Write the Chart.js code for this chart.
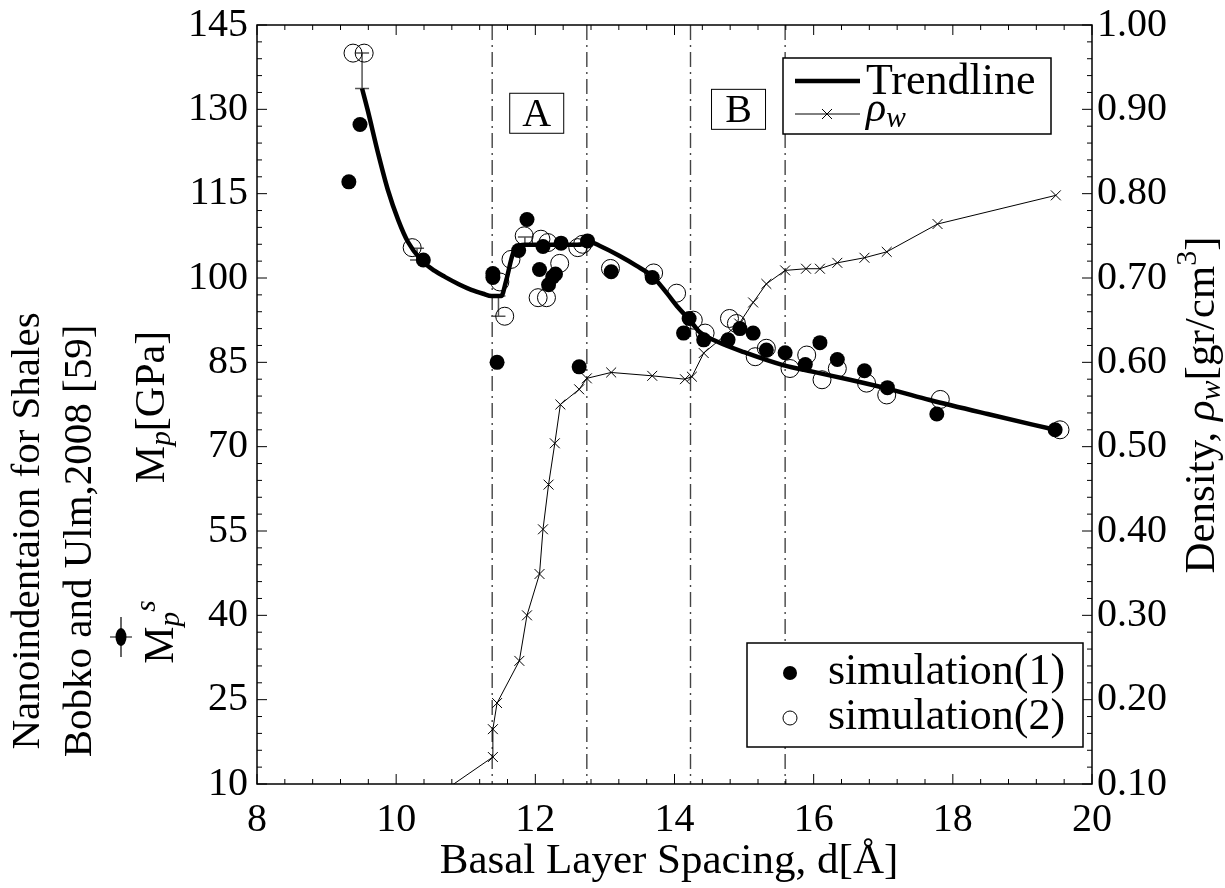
<!DOCTYPE html>
<html>
<head>
<meta charset="utf-8">
<script src="https://cdn.jsdelivr.net/npm/chart.js@4.4.0/dist/chart.umd.min.js"></script>
<style>
  html, body { margin: 0; padding: 0; background: #fff; }
  #wrap { width: 1225px; height: 888px; }
</style>
</head>
<body>
<div id="wrap"><canvas id="chart" width="1225" height="888"></canvas></div>
<script>
// trendline through the indentation modulus
const trendX = [9.51, 9.59, 9.74, 9.88, 10.03, 10.17, 10.36, 10.55, 10.70, 10.90, 11.08, 11.25, 11.37, 11.51, 11.58, 11.68, 11.78, 11.85, 12.10, 12.40, 12.60, 12.80, 12.93, 13.20, 13.45, 13.69, 13.89, 14.05, 14.22, 14.36, 14.61, 15.00, 15.56, 16.00, 16.52, 17.10, 17.67, 18.50, 19.47];
const trendM = [133.7, 129.9, 122.2, 115.7, 110.3, 106.4, 103.2, 101.3, 100.2, 98.9, 97.9, 97.2, 96.8, 96.8, 99.5, 104.4, 105.8, 105.9, 105.9, 105.9, 105.9, 106.3, 105.7, 104.0, 102.2, 100.2, 97.3, 94.8, 92.5, 90.4, 88.7, 86.8, 84.5, 83.3, 81.9, 80.2, 78.3, 75.8, 73.0];

// simulation(1), filled circles
const sim1X = [9.32, 9.48, 10.39, 11.39, 11.39, 11.45, 11.76, 11.88, 12.06, 12.11, 12.19, 12.25, 12.29, 12.37, 12.63, 12.75, 13.09, 13.68, 14.13, 14.21, 14.42, 14.77, 14.94, 15.13, 15.32, 15.59, 15.88, 16.09, 16.34, 16.73, 17.06, 17.77, 19.47];
const sim1M = [117.1, 127.3, 103.2, 100.8, 100.1, 85.0, 104.9, 110.4, 101.5, 105.6, 98.8, 100.2, 100.7, 106.2, 84.2, 106.6, 101.1, 100.1, 90.2, 92.8, 89.0, 89.0, 91.0, 90.2, 87.2, 86.7, 84.6, 88.5, 85.5, 83.5, 80.5, 75.8, 73.0];

// simulation(2), open circles
const sim2X = [9.38, 9.54, 10.23, 11.49, 11.56, 11.65, 11.84, 12.04, 12.08, 12.16, 12.18, 12.35, 12.61, 12.68, 13.08, 13.70, 14.03, 14.27, 14.44, 14.79, 14.89, 15.16, 15.32, 15.66, 15.90, 16.12, 16.34, 16.76, 17.05, 17.82, 19.54];
const sim2M = [140.0, 140.0, 105.4, 99.3, 93.2, 103.3, 107.5, 96.5, 106.9, 96.5, 106.3, 102.6, 105.4, 106.0, 101.7, 100.9, 97.3, 92.5, 90.2, 92.8, 91.9, 86.0, 87.5, 83.9, 86.3, 81.9, 83.9, 81.3, 79.2, 78.4, 73.0];

// water density (right axis)
const rhoX = [10.30, 11.39, 11.39, 11.45, 11.77, 11.88, 12.06, 12.11, 12.19, 12.28, 12.36, 12.63, 12.74, 13.09, 13.68, 14.15, 14.25, 14.42, 14.93, 15.13, 15.32, 15.59, 15.89, 16.09, 16.34, 16.73, 17.05, 17.78, 19.48];
const rhoW = [0.070, 0.132, 0.165, 0.196, 0.246, 0.300, 0.349, 0.402, 0.455, 0.504, 0.550, 0.568, 0.581, 0.588, 0.584, 0.580, 0.583, 0.611, 0.646, 0.671, 0.693, 0.709, 0.711, 0.711, 0.718, 0.724, 0.731, 0.764, 0.798];

// nanoindentation error bars
const errX = [9.51, 10.30, 11.47, 11.85];
const errLo = [133.7, 103.2, 93.2, 105.9];
const errHi = [140.0, 105.3, 96.8, 107.3];

// region boundaries
const regionX = [11.38, 12.74, 14.23, 15.59];

const FONT = 'Liberation Serif';
const pts = (xs, ys) => xs.map((v, i) => ({ x: v, y: ys[i] }));

function richWidth(ctx, parts, size) {
  let w = 0;
  parts.forEach(p => {
    const s = p.s ? size * 0.7 : size;
    ctx.font = (p.i ? 'italic ' : '') + s + 'px "' + FONT + '"';
    w += ctx.measureText(p.t).width;
  });
  return w;
}

function drawRich(ctx, parts, cx, cy, size) {
  let x = cx - richWidth(ctx, parts, size) / 2;
  ctx.textAlign = 'left';
  ctx.textBaseline = 'middle';
  parts.forEach(p => {
    const s = p.s ? size * 0.7 : size;
    ctx.font = (p.i ? 'italic ' : '') + s + 'px "' + FONT + '"';
    let dy = 0;
    if (p.s === 'sub') dy = size * 0.22;
    if (p.s === 'sup') dy = -size * 0.35;
    ctx.fillText(p.t, x, cy + dy);
    x += ctx.measureText(p.t).width;
  });
}

function rotated(ctx, cx, cy, fn) {
  ctx.save();
  ctx.translate(cx, cy);
  ctx.rotate(-Math.PI / 2);
  fn();
  ctx.restore();
}

const under = {
  id: 'under',
  beforeDatasetsDraw(chart) {
    const { ctx, chartArea: a, scales: { x, y } } = chart;
    ctx.save();
    ctx.strokeStyle = '#444';
    ctx.lineWidth = 1.4;
    ctx.setLineDash([15, 5, 2, 5]);
    regionX.forEach(v => {
      const px = x.getPixelForValue(v);
      ctx.beginPath();
      ctx.moveTo(px, a.top);
      ctx.lineTo(px, a.bottom);
      ctx.stroke();
    });
    ctx.setLineDash([]);
    ctx.strokeStyle = '#555';
    ctx.lineWidth = 1.5;
    errX.forEach((v, i) => {
      const px = x.getPixelForValue(v);
      const lo = y.getPixelForValue(errLo[i]);
      const hi = y.getPixelForValue(errHi[i]);
      ctx.beginPath();
      ctx.moveTo(px, lo); ctx.lineTo(px, hi);
      ctx.moveTo(px - 7, lo); ctx.lineTo(px + 7, lo);
      ctx.moveTo(px - 7, hi); ctx.lineTo(px + 7, hi);
      ctx.stroke();
    });
    ctx.restore();
  }
};

const over = {
  id: 'over',
  afterDraw(chart) {
    const { ctx, chartArea: a, scales: { x, y } } = chart;
    ctx.save();
    // frame and inward ticks
    ctx.strokeStyle = '#000';
    ctx.lineWidth = 1.5;
    ctx.strokeRect(a.left, a.top, a.right - a.left, a.bottom - a.top);
    ctx.lineWidth = 1;
    ctx.beginPath();
    for (let k = 0; k <= 30; k++) {
      const px = x.getPixelForValue(8 + k * 0.4);
      const len = k % 5 === 0 ? 10 : 5;
      ctx.moveTo(px, a.bottom); ctx.lineTo(px, a.bottom - len);
      ctx.moveTo(px, a.top); ctx.lineTo(px, a.top + len);
    }
    for (let k = 0; k <= 45; k++) {
      const py = y.getPixelForValue(10 + k * 3);
      const len = k % 5 === 0 ? 10 : 5;
      ctx.moveTo(a.left, py); ctx.lineTo(a.left + len, py);
      ctx.moveTo(a.right, py); ctx.lineTo(a.right - len, py);
    }
    ctx.stroke();

    // region labels
    ctx.fillStyle = '#000';
    [['A', 12.02, 129.3], ['B', 14.92, 130.0]].forEach(([t, vx, vy]) => {
      const px = x.getPixelForValue(vx), py = y.getPixelForValue(vy);
      ctx.fillStyle = '#fff';
      ctx.fillRect(px - 27, py - 20, 54, 40);
      ctx.strokeRect(px - 27, py - 20, 54, 40);
      ctx.fillStyle = '#000';
      drawRich(ctx, [{ t: t }], px, py + 2, 40);
    });

    // legend, top right
    ctx.fillStyle = '#fff';
    ctx.fillRect(783, 58, 268, 76);
    ctx.lineWidth = 1.5;
    ctx.strokeRect(783, 58, 268, 76);
    ctx.beginPath();
    ctx.lineWidth = 4.5;
    ctx.moveTo(795, 81); ctx.lineTo(860, 81);
    ctx.stroke();
    ctx.beginPath();
    ctx.lineWidth = 1;
    ctx.moveTo(795, 114); ctx.lineTo(860, 114);
    ctx.moveTo(822, 109); ctx.lineTo(832, 119);
    ctx.moveTo(822, 119); ctx.lineTo(832, 109);
    ctx.stroke();
    ctx.fillStyle = '#000';
    ctx.textAlign = 'left';
    ctx.textBaseline = 'middle';
    ctx.font = '44px "' + FONT + '"';
    ctx.fillText('Trendline', 866, 82);
    drawRich(ctx, [{ t: 'ρ', i: true }, { t: 'w', i: true, s: 'sub' }], 886, 110, 42);

    // legend, bottom right
    ctx.fillStyle = '#fff';
    ctx.fillRect(747, 643, 336, 104);
    ctx.lineWidth = 1.5;
    ctx.strokeRect(747, 643, 336, 104);
    ctx.fillStyle = '#000';
    ctx.beginPath(); ctx.arc(790, 673, 7, 0, Math.PI * 2); ctx.fill();
    ctx.lineWidth = 1;
    ctx.beginPath(); ctx.arc(790, 718, 7, 0, Math.PI * 2); ctx.stroke();
    ctx.font = '44px "' + FONT + '"';
    ctx.textAlign = 'left';
    ctx.fillText('simulation(1)', 828, 672);
    ctx.fillText('simulation(2)', 828, 717);

    // axis titles
    drawRich(ctx, [{ t: 'Basal Layer Spacing, d[Å]' }], 669, 862, 43);
    rotated(ctx, 28, 531, () => drawRich(ctx, [{ t: 'Nanoindentaion for Shales' }], 0, 0, 41));
    rotated(ctx, 80, 541, () => drawRich(ctx, [{ t: 'Bobko and Ulm,2008 [59]' }], 0, 0, 41));
    rotated(ctx, 153, 407, () => drawRich(ctx, [{ t: 'M' }, { t: 'p', i: true, s: 'sub' }, { t: '[GPa]' }], 0, 0, 42));
    rotated(ctx, 162, 632, () => drawRich(ctx, [{ t: 'M' }, { t: 'p', i: true, s: 'sub' }, { t: 's', i: true, s: 'sup' }], 0, 0, 42));
    rotated(ctx, 1203, 405, () => drawRich(ctx, [{ t: 'Density, ' }, { t: 'ρ', i: true }, { t: 'w', i: true, s: 'sub' }, { t: '[gr/cm' }, { t: '3', s: 'sup' }, { t: ']' }], 0, 0, 43));

    // error bar symbol of the left title
    ctx.strokeStyle = '#000';
    ctx.lineWidth = 1.2;
    ctx.beginPath();
    ctx.moveTo(110, 637); ctx.lineTo(132, 637);
    ctx.moveTo(121, 617); ctx.lineTo(121, 657);
    ctx.stroke();
    ctx.beginPath();
    ctx.ellipse(121, 637, 5.5, 9, 0, 0, Math.PI * 2);
    ctx.fill();
    ctx.restore();
  }
};

const tickFont = { family: FONT, size: 40 };

new Chart(document.getElementById('chart'), {
  type: 'scatter',
  data: {
    datasets: [
      {
        label: 'simulation(1)',
        data: pts(sim1X, sim1M),
        yAxisID: 'y',
        pointRadius: 7.5,
        pointBackgroundColor: '#000',
        pointBorderColor: '#000',
        pointBorderWidth: 0,
        order: 1
      },
      {
        label: 'Trendline',
        type: 'line',
        data: pts(trendX, trendM),
        yAxisID: 'y',
        borderColor: '#000',
        borderWidth: 4.5,
        pointRadius: 0,
        cubicInterpolationMode: 'monotone',
        fill: false,
        order: 2
      },
      {
        label: 'simulation(2)',
        data: pts(sim2X, sim2M),
        yAxisID: 'y',
        pointRadius: 9,
        pointBackgroundColor: 'rgba(255,255,255,0)',
        pointBorderColor: '#000',
        pointBorderWidth: 1,
        order: 3
      },
      {
        label: 'ρw',
        type: 'line',
        data: pts(rhoX, rhoW),
        yAxisID: 'y2',
        borderColor: '#000',
        borderWidth: 1,
        pointStyle: 'crossRot',
        pointRadius: 7,
        pointBorderColor: '#000',
        pointBorderWidth: 1,
        fill: false,
        order: 4
      }
    ]
  },
  options: {
    responsive: false,
    animation: false,
    layout: { padding: { top: 25, left: 0, right: 0, bottom: 0 } },
    plugins: {
      legend: { display: false },
      tooltip: { enabled: false }
    },
    scales: {
      x: {
        type: 'linear',
        min: 8,
        max: 20,
        afterFit: s => { s.height = 104; s.paddingLeft = 0; s.paddingRight = 0; },
        grid: { display: false, drawTicks: false },
        border: { display: false },
        ticks: { stepSize: 2, color: '#000', font: tickFont, padding: 12, maxRotation: 0 }
      },
      y: {
        position: 'left',
        min: 10,
        max: 145,
        afterFit: s => { s.width = 257; s.paddingTop = 0; s.paddingBottom = 0; },
        grid: { display: false, drawTicks: false },
        border: { display: false },
        ticks: { stepSize: 15, color: '#000', font: tickFont, padding: 9 }
      },
      y2: {
        position: 'right',
        min: 0.1,
        max: 1.0,
        afterFit: s => { s.width = 133; s.paddingTop = 0; s.paddingBottom = 0; },
        grid: { display: false, drawTicks: false },
        border: { display: false },
        ticks: { stepSize: 0.1, color: '#000', font: tickFont, padding: 5, callback: v => v.toFixed(2) }
      }
    }
  },
  plugins: [under, over]
});
</script>
</body>
</html>
